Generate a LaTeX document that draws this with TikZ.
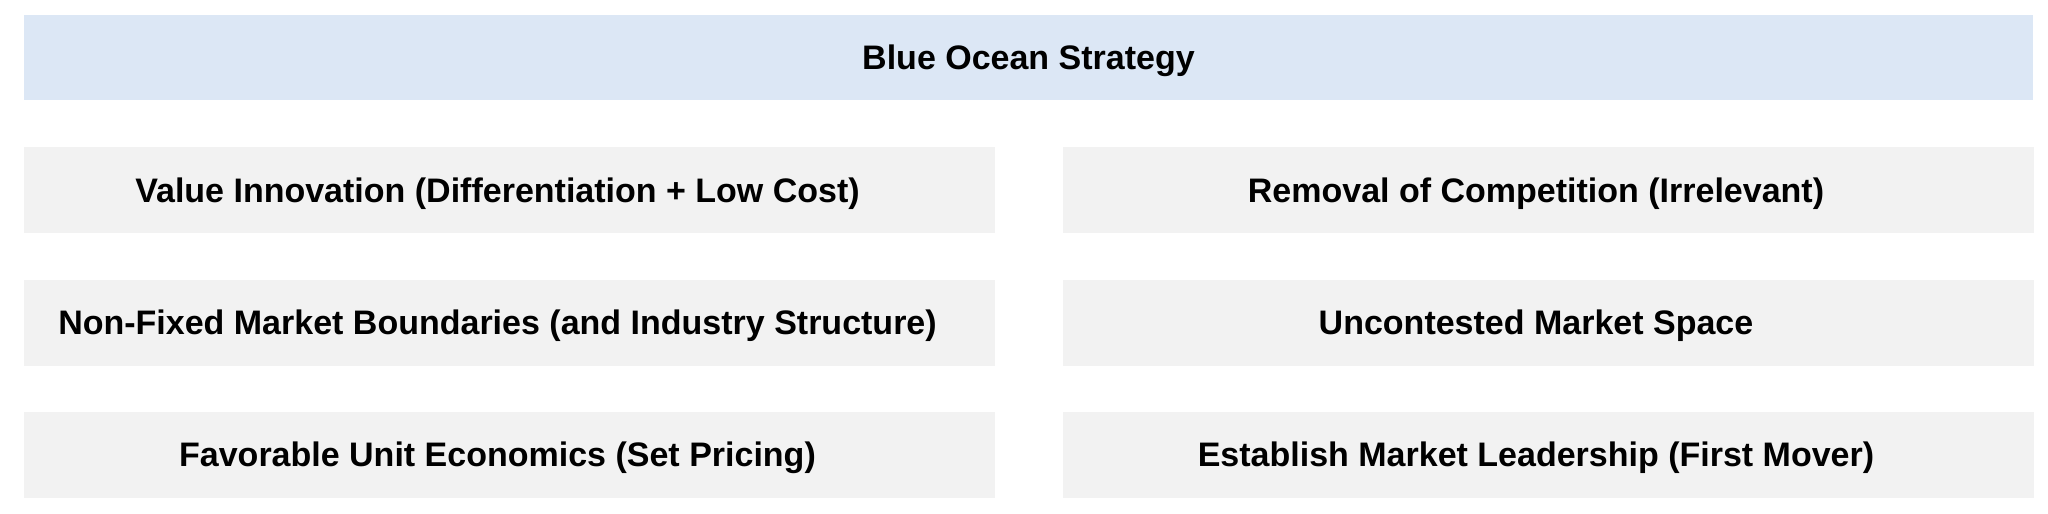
\documentclass[tikz,border=0pt]{standalone}
\usepackage{fontspec}
\setmainfont{Liberation Sans}
\usetikzlibrary{calc}
\definecolor{oceanblue}{HTML}{DCE7F5}
\definecolor{cellgray}{HTML}{F2F2F2}

\begin{document}
\begin{tikzpicture}[x=1pt, y=-1pt,
  titlebox/.style={fill=oceanblue, minimum width=2009pt, minimum height=85pt, inner sep=0pt},
  cellbox/.style={fill=cellgray, minimum width=971pt, minimum height=86pt, inner sep=0pt},
  celltext/.style={font=\fontsize{34}{40}\selectfont\bfseries, anchor=base, inner sep=0pt}]
\useasboundingbox (0,0) rectangle (2048,514);

\def\lx{509.5};
\def\rx{1548};
\def\tx{-12pt};
\def\ty{-12.3pt};

\node[titlebox] (title) at (1028.5, 57.5) {};
\node[celltext] (titletxt) at ([yshift=\ty]title.center) {Blue Ocean Strategy};

\node[cellbox] (value) at (\lx, 190) {};
\node[cellbox] (removal) at (\rx, 190) {};
\node[cellbox] (bounds) at (\lx, 322.5) {};
\node[cellbox] (space) at (\rx, 322.5) {};
\node[cellbox] (units) at (\lx, 454.5) {};
\node[cellbox] (leader) at (\rx, 454.5) {};

\node[celltext] (valuetxt) at ([xshift=\tx, yshift=\ty]value.center) {Value Innovation (Differentiation + Low Cost)};
\node[celltext] (removaltxt) at ([xshift=\tx, yshift=\ty]removal.center) {Removal of Competition (Irrelevant)};
\node[celltext] (boundstxt) at ([xshift=\tx, yshift=\ty]bounds.center) {Non-Fixed Market Boundaries (and Industry Structure)};
\node[celltext] (spacetxt) at ([xshift=\tx, yshift=\ty]space.center) {Uncontested Market Space};
\node[celltext] (unitstxt) at ([xshift=\tx, yshift=\ty]units.center) {Favorable Unit Economics (Set Pricing)};
\node[celltext] (leadertxt) at ([xshift=\tx, yshift=\ty]leader.center) {Establish Market Leadership (First Mover)};

\end{tikzpicture}
\end{document}
